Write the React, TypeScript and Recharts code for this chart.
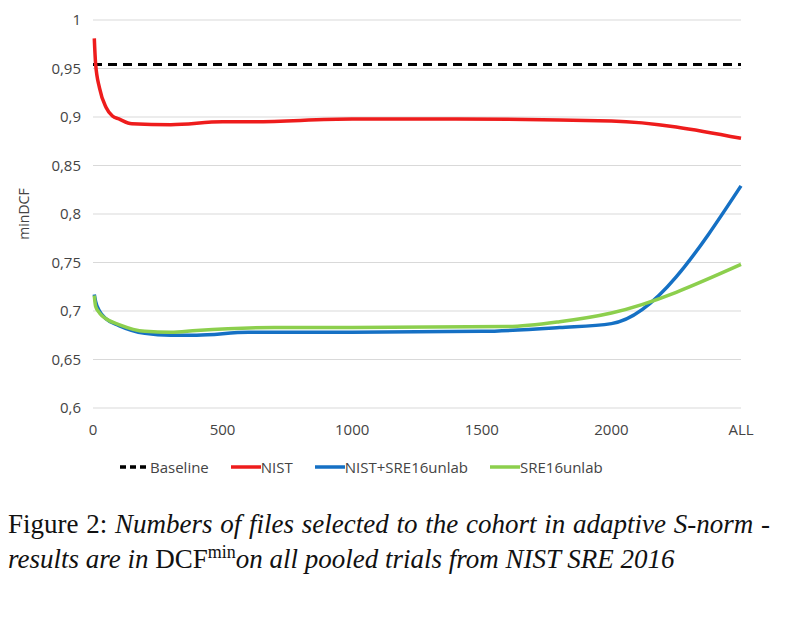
import React from "react";
import { LineChart, Line, XAxis, YAxis, CartesianGrid, Label } from "recharts";

const baseline = [
  { x: 0, y: 0.954 },
  { x: 2500, y: 0.954 },
];
const nist = [
  { x: 5, y: 0.981 }, { x: 10, y: 0.955 }, { x: 25, y: 0.93 }, { x: 50, y: 0.91 },
  { x: 75, y: 0.901 }, { x: 100, y: 0.898 }, { x: 150, y: 0.893 }, { x: 300, y: 0.892 },
  { x: 500, y: 0.895 }, { x: 600, y: 0.895 }, { x: 1000, y: 0.898 }, { x: 1400, y: 0.898 },
  { x: 2000, y: 0.896 }, { x: 2500, y: 0.878 },
];
const nistSre = [
  { x: 5, y: 0.717 }, { x: 10, y: 0.71 }, { x: 25, y: 0.7 }, { x: 50, y: 0.692 },
  { x: 100, y: 0.685 }, { x: 200, y: 0.677 }, { x: 300, y: 0.675 }, { x: 400, y: 0.675 },
  { x: 600, y: 0.678 }, { x: 1000, y: 0.678 }, { x: 1500, y: 0.679 }, { x: 1800, y: 0.683 },
  { x: 2000, y: 0.687 }, { x: 2500, y: 0.829 },
];
const sre = [
  { x: 5, y: 0.716 }, { x: 10, y: 0.705 }, { x: 25, y: 0.698 }, { x: 50, y: 0.692 },
  { x: 100, y: 0.686 }, { x: 200, y: 0.679 }, { x: 300, y: 0.678 }, { x: 400, y: 0.68 },
  { x: 700, y: 0.683 }, { x: 1000, y: 0.683 }, { x: 1600, y: 0.684 }, { x: 1800, y: 0.689 },
  { x: 2000, y: 0.698 }, { x: 2500, y: 0.748 },
];
const xTicks = [0, 500, 1000, 1500, 2000, 2500];
const yTicks = [0.6, 0.65, 0.7, 0.75, 0.8, 0.85, 0.9, 0.95, 1];

const legendItems = [
  { name: "Baseline", color: "#000", dash: "6 4" },
  { name: "NIST", color: "#ee1c1c", dash: "" },
  { name: "NIST+SRE16unlab", color: "#1570c4", dash: "" },
  { name: "SRE16unlab", color: "#8ccf4d", dash: "" },
];

const font = "Open Sans, Liberation Sans, sans-serif";

export default function App() {
  return (
    <div style={{ width: 770 }}>
      <LineChart width={770} height={432} margin={{ top: 12, right: 37, left: 0, bottom: 0 }}>
        <CartesianGrid vertical={false} stroke="#d9d9d9" />
        <XAxis dataKey="x" type="number" domain={[0, 2500]} ticks={xTicks} allowDuplicatedCategory={false}
          tickFormatter={(v) => (v === 2500 ? "ALL" : String(v))} axisLine={false} tickLine={false}
          tick={{ fill: "#444", fontSize: 15, fontFamily: font }} height={32} tickMargin={10} />
        <YAxis type="number" domain={[0.6, 1]} ticks={yTicks} width={85} axisLine={false} tickLine={false}
          tickFormatter={(v) => (v === 1 ? "1" : String(Math.round(v * 100) / 100).replace(".", ","))}
          tick={{ fill: "#444", fontSize: 15, fontFamily: font }} tickMargin={6}>
          <Label value="minDCF" angle={-90} position="insideLeft" offset={16}
            style={{ fill: "#444", fontSize: 14, fontFamily: font, textAnchor: "middle" }} />
        </YAxis>
        <Line data={baseline} dataKey="y" stroke="#000" strokeWidth={3} strokeDasharray="9 6" dot={false} isAnimationActive={false} />
        <Line data={nist} dataKey="y" type="monotone" stroke="#ee1c1c" strokeWidth={3.5} dot={false} isAnimationActive={false} />
        <Line data={nistSre} dataKey="y" type="monotoneX" stroke="#1570c4" strokeWidth={3.5} dot={false} isAnimationActive={false} />
        <Line data={sre} dataKey="y" type="monotoneX" stroke="#8ccf4d" strokeWidth={3.5} dot={false} isAnimationActive={false} />
      </LineChart>
      <div style={{ display: "flex", marginLeft: 112, marginTop: 17, gap: 22, fontFamily: font, fontSize: 15, color: "#444" }}>
        {legendItems.map((it) => (
          <span key={it.name} style={{ display: "flex", alignItems: "center" }}>
            <svg width={30} height={10}>
              <line x1={0} y1={5} x2={30} y2={5} stroke={it.color} strokeWidth={3.5} strokeDasharray={it.dash} />
            </svg>
            {it.name}
          </span>
        ))}
      </div>
      <div style={{ fontFamily: "Liberation Serif, serif", fontSize: 27, lineHeight: "35px", marginTop: 30, color: "#111", width: 762, textAlign: "justify" }}>
        Figure 2: <i>Numbers of files selected to the cohort in adaptive S-norm - results are in </i>DCF<sup style={{ fontSize: 18, lineHeight: 0 }}>min</sup><i>on all pooled trials from NIST SRE 2016</i>
      </div>
    </div>
  );
}
